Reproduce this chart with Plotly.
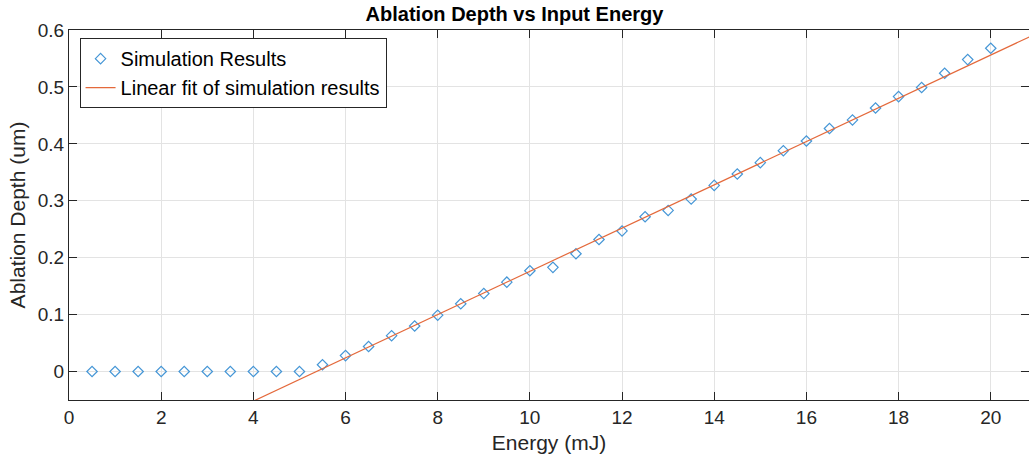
import numpy as np
import plotly.graph_objects as go

energy = [0.5, 1, 1.5, 2, 2.5, 3, 3.5, 4, 4.5, 5, 5.5, 6, 6.5, 7, 7.5, 8, 8.5, 9, 9.5, 10,
          10.5, 11, 11.5, 12, 12.5, 13, 13.5, 14, 14.5, 15, 15.5, 16, 16.5, 17, 17.5, 18,
          18.5, 19, 19.5, 20]
depth = [0, 0, 0, 0, 0, 0, 0, 0, 0, 0, 0.012, 0.028, 0.044, 0.063, 0.080, 0.099, 0.119,
         0.137, 0.157, 0.177, 0.183, 0.207, 0.232, 0.247, 0.272, 0.283, 0.303, 0.327, 0.347,
         0.367, 0.388, 0.405, 0.427, 0.442, 0.463, 0.483, 0.499, 0.524, 0.548, 0.568]
fit_slope = 0.0380
fit_intercept = -0.204
fit_x = [0, 21]
fit_y = [fit_intercept + fit_slope * v for v in fit_x]

x_ticks = [0, 2, 4, 6, 8, 10, 12, 14, 16, 18, 20]
y_ticks = [0, 0.1, 0.2, 0.3, 0.4, 0.5, 0.6]
y_tick_labels = ["0", "0.1", "0.2", "0.3", "0.4", "0.5", "0.6"]

font = "Liberation Sans, Arial, sans-serif"
axcol = "#262626"

fig = go.Figure()
fig.add_trace(go.Scatter(
    x=energy, y=depth, mode="markers", name="Simulation Results",
    marker=dict(symbol="diamond-open", size=8, color="#4596d6", line=dict(width=1.2)),
))
fig.add_trace(go.Scatter(
    x=fit_x, y=fit_y, mode="lines", name="Linear fit of simulation results",
    line=dict(color="#e4693b", width=1.2),
))

fig.update_layout(
    width=1029, height=465,
    margin=dict(l=69, r=0, t=30, b=65),
    plot_bgcolor="white", paper_bgcolor="white",
    font=dict(family=font, size=19, color=axcol),
    title=dict(text="<b>Ablation Depth vs Input Energy</b>", x=0.5, xanchor="center",
               y=0.969, yanchor="middle", font=dict(size=20, color="black")),
    showlegend=True,
    legend=dict(x=0.011, y=0.978, xanchor="left", yanchor="top",
                bgcolor="white", bordercolor=axcol, borderwidth=1,
                font=dict(size=20, color="black"), tracegroupgap=0,
                itemwidth=30),
)
fig.update_xaxes(
    range=[0, 20.83], tickvals=x_ticks, ticktext=[str(t) for t in x_ticks],
    showgrid=True, gridcolor="#e3e3e3", gridwidth=1, zeroline=False,
    showline=True, linecolor=axcol, linewidth=1, mirror="ticks",
    ticks="inside", ticklen=8, tickcolor=axcol, tickfont=dict(size=19),
    title=dict(text="Energy (mJ)", font=dict(size=21), standoff=8),
)
fig.update_yaxes(
    range=[-0.05, 0.6], tickvals=y_ticks, ticktext=y_tick_labels,
    showgrid=True, gridcolor="#e3e3e3", gridwidth=1, zeroline=False,
    showline=True, linecolor=axcol, linewidth=1, mirror="ticks",
    ticks="inside", ticklen=8, tickcolor=axcol, tickfont=dict(size=19),
    title=dict(text="Ablation Depth (um)", font=dict(size=21), standoff=6),
)

fig.write_html("out.html")
